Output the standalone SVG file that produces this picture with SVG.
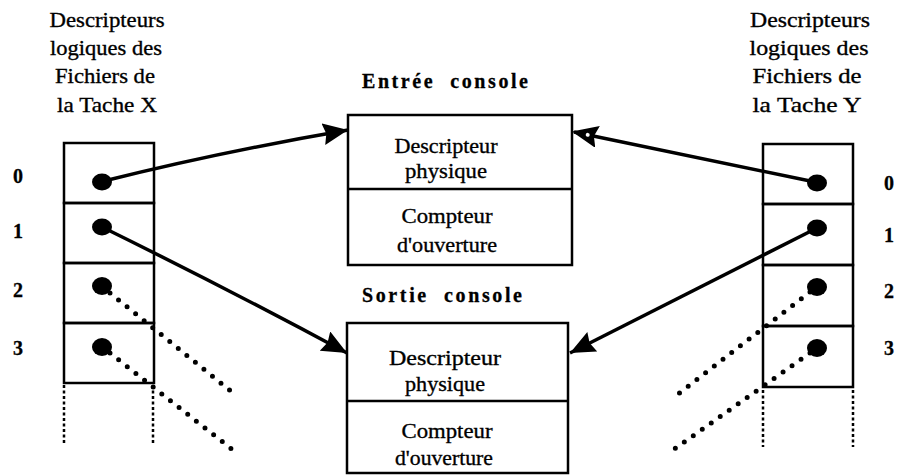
<svg xmlns="http://www.w3.org/2000/svg" width="905" height="475" viewBox="0 0 905 475">
<style>
.t{font-family:'Liberation Serif','DejaVu Serif',serif;font-size:22px;fill:#000;stroke:#000;stroke-width:0.35;text-anchor:middle}
.b{font-family:'Liberation Serif','DejaVu Serif',serif;font-size:20px;font-weight:bold;fill:#000;stroke:#000;stroke-width:0.3;text-anchor:middle}
.box{fill:#fff;stroke:#000;stroke-width:2.5}
.cell{fill:none;stroke:#000;stroke-width:2.5}
.dot{fill:#000}
.conn{fill:none;stroke:#000;stroke-width:3.5}
.dotted{fill:none;stroke:#000;stroke-width:5;stroke-linecap:round;stroke-dasharray:0 11}
.vdash{fill:none;stroke:#000;stroke-width:2.5;stroke-dasharray:3 2.5}
</style>
<defs>
<marker id="ah" markerUnits="userSpaceOnUse" markerWidth="28" markerHeight="24" refX="25" refY="11" orient="auto">
<path d="M0,0 L25,11 L0,22 L3,11 Z" fill="#000"/>
</marker>
<marker id="ahh" markerUnits="userSpaceOnUse" markerWidth="30" markerHeight="26" refX="24" refY="11" orient="auto">
<path d="M2,2 L23,11 L2,20 L5,11 Z" fill="#000" stroke="#000" stroke-width="2.5" stroke-linejoin="miter"/>
<circle cx="10" cy="11" r="2" fill="#fff"/>
</marker>
</defs>

<g id="header-x">
<text class="t" x="107" y="27" textLength="115" lengthAdjust="spacingAndGlyphs">Descripteurs</text>
<text class="t" x="106" y="55" textLength="112" lengthAdjust="spacingAndGlyphs">logiques des</text>
<text class="t" x="105" y="83" textLength="100" lengthAdjust="spacingAndGlyphs">Fichiers de</text>
<text class="t" x="107" y="112" textLength="100" lengthAdjust="spacingAndGlyphs">la Tache X</text>
</g>
<g id="header-y">
<text class="t" x="810" y="27" textLength="120" lengthAdjust="spacingAndGlyphs">Descripteurs</text>
<text class="t" x="809" y="55" textLength="119" lengthAdjust="spacingAndGlyphs">logiques des</text>
<text class="t" x="807" y="83" textLength="109" lengthAdjust="spacingAndGlyphs">Fichiers de</text>
<text class="t" x="807" y="112" textLength="109" lengthAdjust="spacingAndGlyphs">la Tache Y</text>
</g>

<g id="table-x">
<rect class="cell" x="64" y="143" width="90" height="60"/>
<rect class="cell" x="64" y="203" width="90" height="60"/>
<rect class="cell" x="64" y="263" width="90" height="60"/>
<rect class="cell" x="64" y="323" width="90" height="60"/>
<ellipse class="dot" cx="102" cy="182" rx="10" ry="8.5"/>
<ellipse class="dot" cx="102" cy="227" rx="10" ry="8.5"/>
<ellipse class="dot" cx="102" cy="286" rx="10" ry="9"/>
<ellipse class="dot" cx="102" cy="347" rx="10" ry="9"/>
<text class="b" x="18" y="183">0</text>
<text class="b" x="18" y="238">1</text>
<text class="b" x="18" y="297">2</text>
<text class="b" x="18" y="355">3</text>
<line class="vdash" x1="64" y1="385" x2="64" y2="445"/>
<line class="vdash" x1="153" y1="385" x2="153" y2="445"/>
</g>

<g id="table-y">
<rect class="cell" x="763" y="144" width="90" height="60"/>
<rect class="cell" x="763" y="204" width="90" height="61"/>
<rect class="cell" x="763" y="265" width="90" height="61"/>
<rect class="cell" x="763" y="326" width="90" height="61"/>
<ellipse class="dot" cx="817" cy="183" rx="10" ry="8.5"/>
<ellipse class="dot" cx="817" cy="228" rx="10" ry="8.5"/>
<ellipse class="dot" cx="817" cy="287" rx="10" ry="9"/>
<ellipse class="dot" cx="817" cy="348" rx="10" ry="9"/>
<text class="b" x="889" y="190">0</text>
<text class="b" x="889" y="242">1</text>
<text class="b" x="889" y="298">2</text>
<text class="b" x="889" y="355">3</text>
<line class="vdash" x1="763" y1="390" x2="763" y2="447"/>
<line class="vdash" x1="853" y1="390" x2="853" y2="447"/>
</g>

<g id="entree-console">
<text class="b" x="445" y="88" textLength="166" lengthAdjust="spacing" xml:space="preserve">Entrée  console</text>
<rect class="box" x="348" y="115" width="224" height="150"/>
<line class="cell" x1="348" y1="189" x2="572" y2="189"/>
<text class="t" x="446" y="153" textLength="103" lengthAdjust="spacingAndGlyphs">Descripteur</text>
<text class="t" x="446" y="178" textLength="82" lengthAdjust="spacingAndGlyphs">physique</text>
<text class="t" x="447" y="223" textLength="91" lengthAdjust="spacingAndGlyphs">Compteur</text>
<text class="t" x="447" y="252" textLength="100" lengthAdjust="spacingAndGlyphs">d'ouverture</text>
</g>

<g id="sortie-console">
<text class="b" x="442" y="302" textLength="160" lengthAdjust="spacing" xml:space="preserve">Sortie  console</text>
<rect class="box" x="347" y="323" width="221" height="150"/>
<line class="cell" x1="347" y1="401" x2="568" y2="401"/>
<text class="t" x="445" y="365" textLength="112" lengthAdjust="spacingAndGlyphs">Descripteur</text>
<text class="t" x="445" y="391" textLength="80" lengthAdjust="spacingAndGlyphs">physique</text>
<text class="t" x="447" y="438" textLength="91" lengthAdjust="spacingAndGlyphs">Compteur</text>
<text class="t" x="444" y="465" textLength="98" lengthAdjust="spacingAndGlyphs">d'ouverture</text>
</g>

<g id="connectors">
<path class="conn" d="M104,181 Q220,152 348,130" marker-end="url(#ah)"/>
<path class="conn" d="M815,182 L574,132" marker-end="url(#ahh)"/>
<path class="conn" d="M102,227 Q230,290 347,353" marker-end="url(#ah)"/>
<path class="conn" d="M817,228 L570,353" marker-end="url(#ah)"/>
<line class="dotted" x1="110" y1="293" x2="238" y2="397"/>
<line class="dotted" x1="110" y1="353" x2="238" y2="454"/>
<line class="dotted" x1="810" y1="292" x2="673" y2="398"/>
<line class="dotted" x1="810" y1="353" x2="673" y2="450"/>
</g>
</svg>
